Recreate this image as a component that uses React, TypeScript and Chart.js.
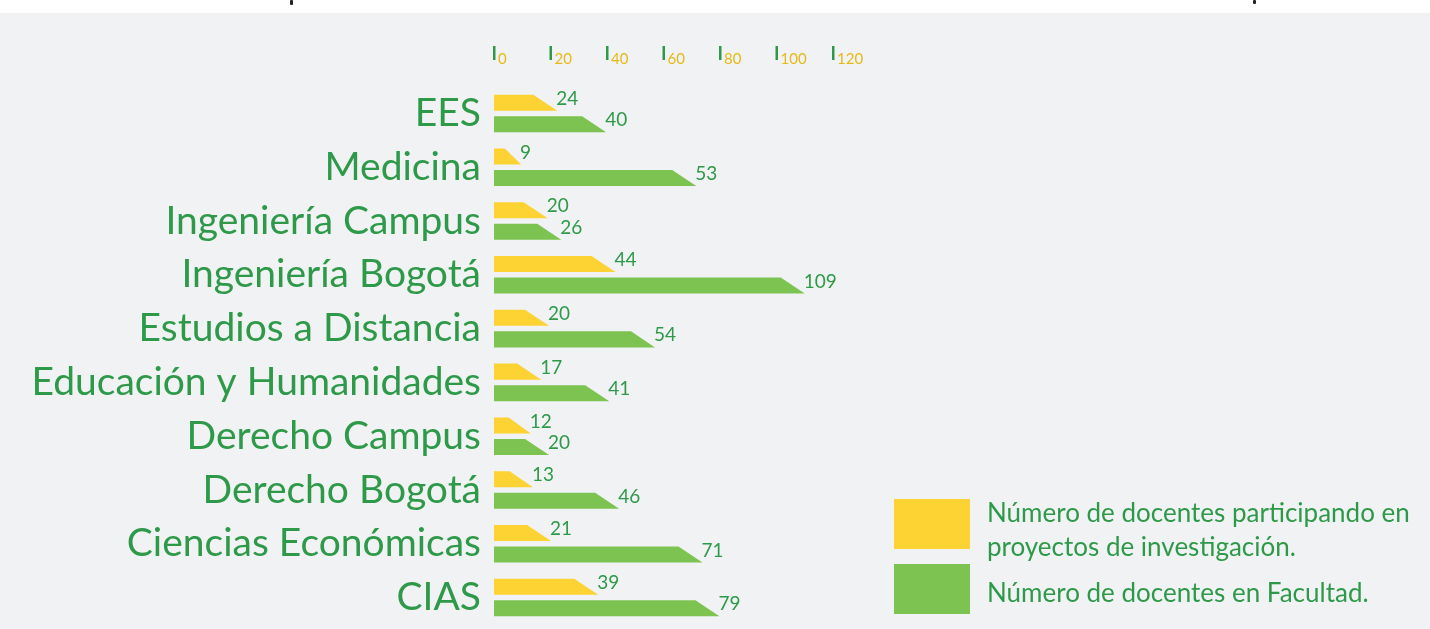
import React, { useEffect, useRef } from "react";
import { Chart, registerables } from "chart.js";
Chart.register(...registerables);

const categories = [
  "EES",
  "Medicina",
  "Ingeniería Campus",
  "Ingeniería Bogotá",
  "Estudios a Distancia",
  "Educación y Humanidades",
  "Derecho Campus",
  "Derecho Bogotá",
  "Ciencias Económicas",
  "CIAS",
];
const seriesNames = [
  "Número de docentes participando en proyectos de investigación.",
  "Número de docentes en Facultad.",
];
// bar lengths as drawn in the picture
const researchBars = [22.4, 9.6, 19, 43, 19.5, 16.7, 13, 13.8, 20.2, 36.9];
const facultyBars = [39.7, 71.6, 23.8, 110, 57, 40.8, 19.5, 44.3, 73.8, 79.8];
// value labels printed next to the bars
const researchLabels = ["24", "9", "20", "44", "20", "17", "12", "13", "21", "39"];
const facultyLabels = ["40", "53", "26", "109", "54", "41", "20", "46", "71", "79"];
const xTicks = [0, 20, 40, 60, 80, 100, 120];

const YELLOW = "#fdd233";
const GREEN_BAR = "#7dc352";
const GREEN_TEXT = "#2e9a49";
const TICK_YELLOW = "#e8b916";
const BG = "#f1f2f4";
const FONT = "Lato, 'Open Sans', sans-serif";

const barColors = [YELLOW, GREEN_BAR];
const labelSets = [researchLabels, facultyLabels];

const trapezoidPlugin = {
  id: "trapezoids",
  afterDatasetsDraw(chart: any) {
    const ctx = chart.ctx;
    ctx.save();
    chart.data.datasets.forEach((_ds: any, di: number) => {
      const meta = chart.getDatasetMeta(di);
      meta.data.forEach((el: any, i: number) => {
        const { x, y, base, height } = el.getProps(["x", "y", "base", "height"], true);
        const top = y - height / 2;
        const bottom = y + height / 2;
        const w = x - base;
        const s = Math.min(24, w * 0.6);
        ctx.fillStyle = barColors[di];
        ctx.beginPath();
        ctx.moveTo(base, top);
        ctx.lineTo(x - s, top);
        ctx.lineTo(x, bottom);
        ctx.lineTo(base, bottom);
        ctx.closePath();
        ctx.fill();
        ctx.fillStyle = GREEN_TEXT;
        ctx.font = "19px " + FONT;
        ctx.textAlign = "left";
        ctx.textBaseline = "middle";
        ctx.fillText(labelSets[di][i], x - 1, y - 4);
      });
    });
    // custom top axis ticks
    const xs = chart.scales.x;
    xTicks.forEach((v) => {
      const px = xs.getPixelForValue(v);
      ctx.fillStyle = GREEN_TEXT;
      ctx.fillRect(px - 1, 46, 2.5, 14);
      ctx.fillStyle = TICK_YELLOW;
      ctx.font = "15px " + FONT;
      ctx.textAlign = "left";
      ctx.textBaseline = "alphabetic";
      ctx.fillText(String(v), px + 4, 64);
    });
    ctx.restore();
  },
};

export default function App() {
  const ref = useRef<HTMLCanvasElement | null>(null);
  useEffect(() => {
    if (!ref.current) return;
    const chart = new Chart(ref.current, {
      type: "bar",
      data: {
        labels: categories,
        datasets: [
          { label: seriesNames[0], data: researchBars, backgroundColor: "rgba(0,0,0,0)" },
          { label: seriesNames[1], data: facultyBars, backgroundColor: "rgba(0,0,0,0)" },
        ],
      },
      options: {
        indexAxis: "y",
        responsive: false,
        animation: false,
        layout: { padding: { top: 86.6, bottom: 4.6, left: 0, right: 1430 - 833 } },
        datasets: { bar: { categoryPercentage: 0.8, barPercentage: 0.745 } },
        scales: {
          x: { min: 0, max: 120, display: false },
          y: {
            afterFit: (s: any) => {
              s.width = 494;
              s.paddingTop = 0;
              s.paddingBottom = 0;
            },
            grid: { display: false, drawTicks: false },
            border: { display: false },
            ticks: {
              autoSkip: false,
              color: GREEN_TEXT,
              padding: 13,
              font: { family: FONT, size: 39 },
            },
          },
        },
        plugins: { legend: { display: false }, tooltip: { enabled: false } },
      } as any,
      plugins: [trapezoidPlugin],
    });
    return () => chart.destroy();
  }, []);

  const legendText = {
    position: "absolute" as const,
    left: 987,
    width: 435,
    font: "26px " + FONT,
    lineHeight: "34px",
    color: GREEN_TEXT,
  };

  return (
    <div style={{ position: "fixed", left: 0, top: 0, width: 1430, height: 629, background: "#fff", overflow: "hidden" }}>
      <div style={{ position: "absolute", left: 0, top: 13, width: 1430, height: 616, background: BG }} />
      <div style={{ position: "absolute", left: 290, top: 0, width: 3, height: 5, background: "#222", borderRadius: 1 }} />
      <div style={{ position: "absolute", left: 1253, top: 0, width: 3, height: 4, background: "#222", borderRadius: 1 }} />
      <canvas ref={ref} width={1430} height={629} style={{ position: "absolute", left: 0, top: 0 }} />
      <div style={{ position: "absolute", left: 894, top: 499, width: 76, height: 50, background: YELLOW }} />
      <div style={{ position: "absolute", left: 894, top: 564, width: 76, height: 50, background: GREEN_BAR }} />
      <div style={{ ...legendText, top: 494.9 }}>{seriesNames[0]}</div>
      <div style={{ ...legendText, top: 574.6 }}>{seriesNames[1]}</div>
    </div>
  );
}
